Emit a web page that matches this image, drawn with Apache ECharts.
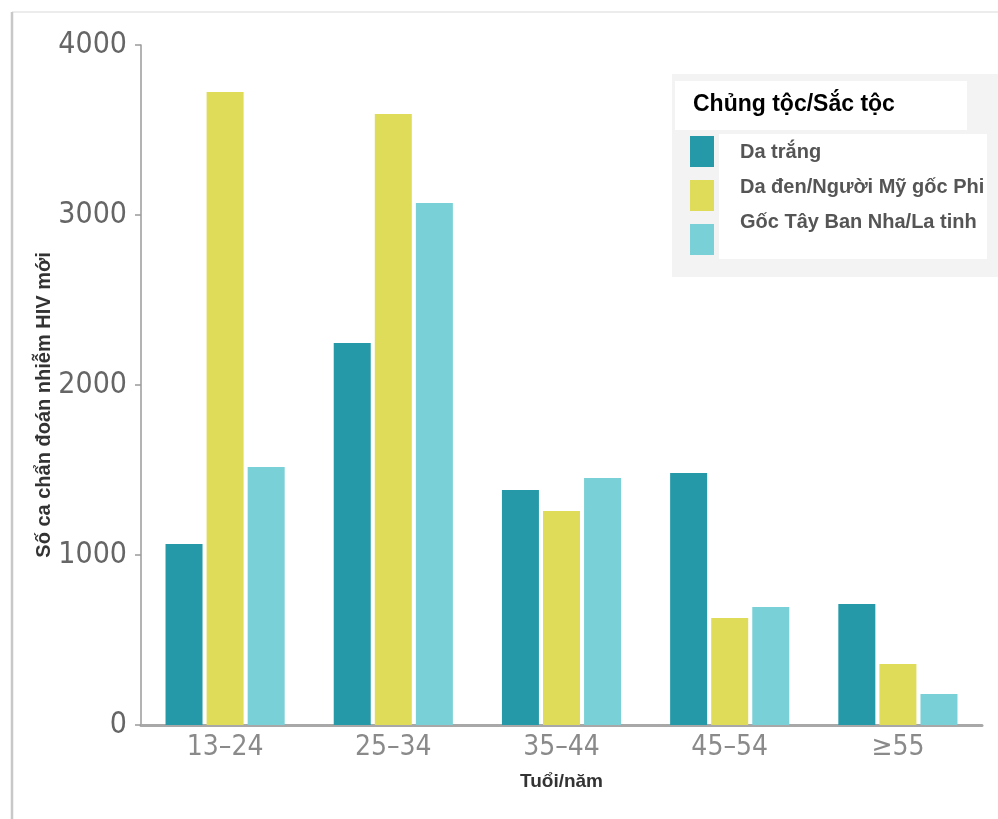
<!DOCTYPE html>
<html>
<head>
<meta charset="utf-8">
<script src="https://cdn.jsdelivr.net/npm/echarts@6/dist/echarts.min.js"></script>
<style>
html,body{margin:0;padding:0;background:#fff;}
#chart{width:998px;height:819px;}
</style>
</head>
<body>
<div id="chart"></div>
<script>
// ---- data ----
const categories = ['13–24', '25–34', '35–44', '45–54', '≥55'];
const seriesNames = ['Da trắng', 'Da đen/Người Mỹ gốc Phi', 'Gốc Tây Ban Nha/La tinh'];
const whiteValues = [1065, 2247, 1382, 1482, 712];
const blackValues = [3724, 3594, 1259, 629, 359];
const hispanicValues = [1518, 3071, 1453, 694, 182];
const yTicks = [0, 1000, 2000, 3000, 4000];
const legendTitle = 'Chủng tộc/Sắc tộc';
const xAxisName = 'Tuổi/năm';
const yAxisName = 'Số ca chẩn đoán nhiễm HIV mới';

const colors = ['#2599a8', '#dfdc5a', '#79d0d6'];
const valueSets = [whiteValues, blackValues, hispanicValues];

const chart = echarts.init(document.getElementById('chart'));
const narrow = "'Liberation Sans Narrow', 'DejaVu Sans Condensed', 'Liberation Sans', sans-serif";
const boldFont = "'Liberation Sans', Arial, sans-serif";

const option = {
  animation: false,
  backgroundColor: '#ffffff',
  title: {
    text: legendTitle,
    left: 688,
    top: 88,
    textStyle: { fontFamily: boldFont, fontWeight: 'bold', fontSize: 23, color: '#000' }
  },
  legend: [
    {
      data: seriesNames,
      orient: 'vertical',
      left: 685,
      top: 131,
      itemWidth: 24,
      itemHeight: 31,
      itemGap: 13,
      icon: 'rect',
      selectedMode: false,
      formatter: function () { return ''; },
      textStyle: { fontSize: 1 }
    },
    {
      data: seriesNames,
      orient: 'vertical',
      left: 729,
      top: 137,
      itemWidth: 1,
      itemHeight: 20,
      itemGap: 15,
      icon: 'rect',
      selectedMode: false,
      itemStyle: { opacity: 0 },
      textStyle: { fontFamily: boldFont, fontWeight: 'bold', fontSize: 20, color: '#555' }
    }
  ],
  graphic: [
    { type: 'rect', z: 0, shape: { x: 672, y: 74, width: 326, height: 203 }, style: { fill: '#f3f3f3' } },
    { type: 'rect', z: 0, shape: { x: 675, y: 81, width: 292, height: 49 }, style: { fill: '#ffffff' } },
    { type: 'rect', z: 0, shape: { x: 719, y: 134, width: 268, height: 125 }, style: { fill: '#ffffff' } },
    { type: 'line', z: 0, shape: { x1: 12, y1: 12, x2: 998, y2: 12 }, style: { stroke: '#e6e6e6', lineWidth: 1.5 } },
    { type: 'line', z: 0, shape: { x1: 12, y1: 12, x2: 12, y2: 819 }, style: { stroke: '#c8c8c8', lineWidth: 2.5 } }
  ],
  grid: { left: 141, right: 16, top: 45, bottom: 94, containLabel: false },
  xAxis: {
    type: 'category',
    data: categories,
    name: xAxisName,
    nameLocation: 'middle',
    nameGap: 47,
    nameTextStyle: { fontFamily: boldFont, fontWeight: 'bold', fontSize: 19, color: '#333' },
    axisLine: { lineStyle: { color: '#a8a8a8', width: 3 } },
    axisTick: { show: false },
    axisLabel: { fontFamily: narrow, fontSize: 28, color: '#8a8a8a', margin: 9 }
  },
  yAxis: {
    type: 'value',
    min: yTicks[0],
    max: yTicks[yTicks.length - 1],
    interval: 1000,
    name: yAxisName,
    nameLocation: 'middle',
    nameGap: 87,
    nameMoveOverlap: false,
    nameTextStyle: { fontFamily: boldFont, fontWeight: 'bold', fontSize: 20, color: '#333', padding: [0, 40, 0, 0] },
    axisLine: { show: true, lineStyle: { color: '#9a9a9a', width: 1.5 } },
    axisTick: { show: true, length: 6, lineStyle: { color: '#9a9a9a', width: 1.5 } },
    splitLine: { show: false },
    axisLabel: { fontFamily: narrow, fontSize: 30, color: '#666', margin: 14, formatter: function (v) { return String(v); } }
  },
  series: seriesNames.map(function (name, i) {
    return {
      name: name,
      type: 'bar',
      data: valueSets[i],
      barWidth: 37,
      barGap: '11%',
      itemStyle: { color: colors[i] }
    };
  })
};
chart.setOption(option);
</script>
</body>
</html>
